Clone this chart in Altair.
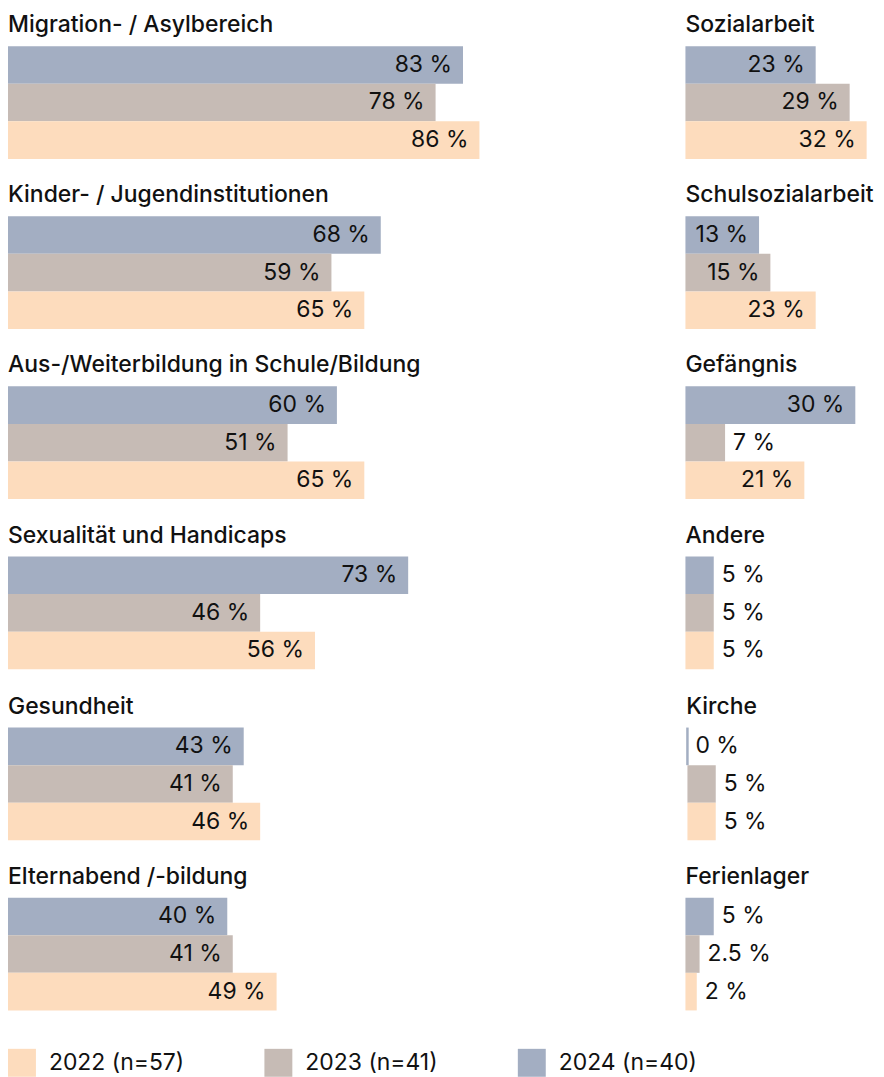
import altair as alt
import pandas as pd

left_categories = [
    "Migration- / Asylbereich",
    "Kinder- / Jugendinstitutionen",
    "Aus-/Weiterbildung in Schule/Bildung",
    "Sexualität und Handicaps",
    "Gesundheit",
    "Elternabend /-bildung",
]
right_categories = [
    "Sozialarbeit",
    "Schulsozialarbeit",
    "Gefängnis",
    "Andere",
    "Kirche",
    "Ferienlager",
]
left_2024 = [83, 68, 60, 73, 43, 40]
left_2023 = [78, 59, 51, 46, 41, 41]
left_2022 = [86, 65, 65, 56, 46, 49]
right_2024 = [23, 13, 30, 5, 0, 5]
right_2023 = [29, 15, 7, 5, 5, 2.5]
right_2022 = [32, 23, 21, 5, 5, 2]

series_names = ["2022 (n=57)", "2023 (n=41)", "2024 (n=40)"]
series_colors = ["#FDDCBD", "#C6BBB5", "#A3AEC2"]
bar_order = ["2024 (n=40)", "2023 (n=41)", "2022 (n=57)"]

FONT = "Inter"


def make_df(cats, v24, v23, v22):
    rows = []
    for c, a, b, d in zip(cats, v24, v23, v22):
        for name, v in zip(bar_order, [a, b, d]):
            rows.append({"cat": c, "year": name, "value": v, "label": f"{v:g} %"})
    return pd.DataFrame(rows)


df_left = make_df(left_categories, left_2024, left_2023, left_2022)
df_right = make_df(right_categories, right_2024, right_2023, right_2022)

color_scale = alt.Scale(domain=series_names, range=series_colors)


def panel(df, cat, width, xmax):
    sub = df[df["cat"] == cat]
    base = alt.Chart(sub).encode(
        x=alt.X("value:Q", scale=alt.Scale(domain=[0, xmax], nice=False, zero=True), axis=None),
        y=alt.Y("year:N", sort=bar_order, axis=None,
                scale=alt.Scale(paddingInner=0, paddingOuter=0)),
    )
    bars = base.mark_bar().encode(
        color=alt.Color("year:N", scale=color_scale, legend=alt.Legend(title=None))
    )
    layers = [bars]
    if (sub["value"] == 0).any():
        zero_line = base.transform_filter("datum.value == 0").mark_tick(
            orient="vertical", thickness=2.5, size=37.7, opacity=1
        ).encode(color=alt.Color("year:N", scale=color_scale, legend=None))
        layers.append(zero_line)
    inside = base.transform_filter("datum.value >= 10").mark_text(
        align="right", dx=-11, fontSize=23, font=FONT, color="#111111"
    ).encode(text="label:N")
    outside = base.transform_filter("datum.value < 10").mark_text(
        align="left", dx=8, fontSize=23, font=FONT, color="#111111"
    ).encode(text="label:N")
    layers += [inside, outside]
    return alt.layer(*layers).properties(
        width=width,
        height=113,
        title=alt.TitleParams(
            text=cat,
            anchor="start",
            fontSize=23,
            fontWeight=500,
            font=FONT,
            color="#111111",
            offset=9,
        ),
    )


rows = []
for lc, rc in zip(left_categories, right_categories):
    rows.append(
        alt.hconcat(
            panel(df_left, lc, 500, 91),
            panel(df_right, rc, 189, 33.3),
            spacing=179,
        ).resolve_scale(x="independent")
    )

chart = (
    alt.vconcat(*rows, spacing=25.5)
    .properties(padding={"left": 0, "top": 5, "right": 0, "bottom": 0})
    .configure_view(stroke=None)
    .configure_legend(
        orient="bottom",
        direction="horizontal",
        symbolType="square",
        symbolSize=784,
        symbolStrokeWidth=0,
        labelFontSize=23,
        labelFont=FONT,
        labelColor="#111111",
        labelOffset=13,
        columnPadding=80,
        offset=38,
    )
)

chart.save("out.html", embed_options={"renderer": "svg", "actions": False})
